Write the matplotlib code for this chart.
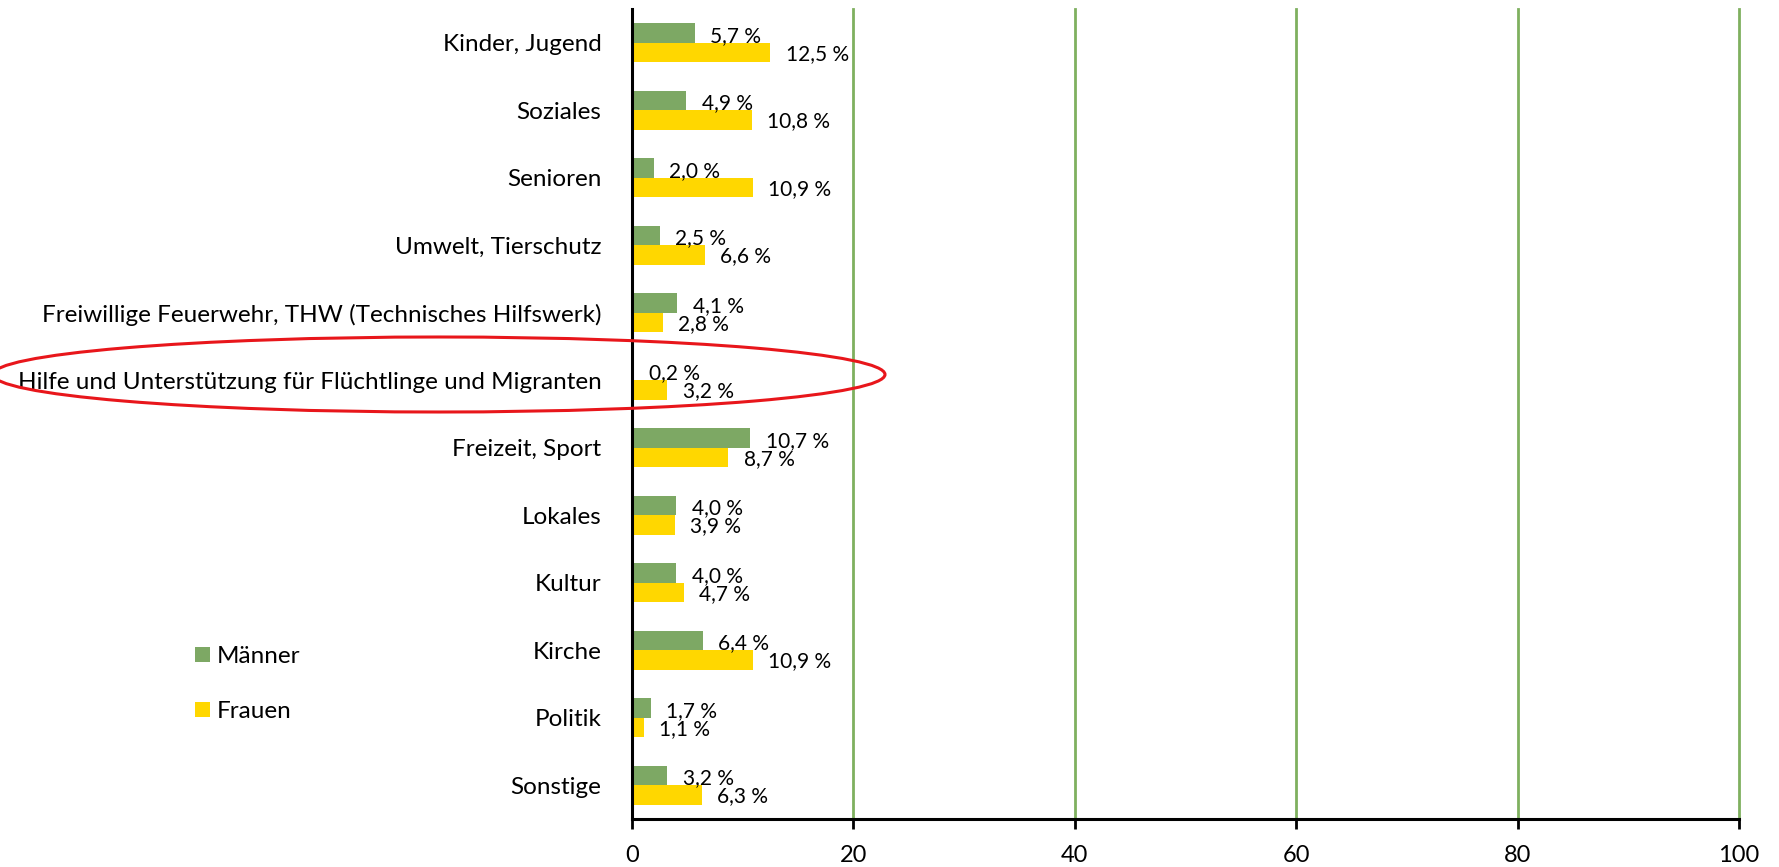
import matplotlib
matplotlib.use("Agg")
import matplotlib.pyplot as plt
from matplotlib.patches import Ellipse
import numpy as np

categories = ["Kinder, Jugend", "Soziales", "Senioren", "Umwelt, Tierschutz",
              "Freiwillige Feuerwehr, THW (Technisches Hilfswerk)",
              "Hilfe und Unterstützung für Flüchtlinge und Migranten",
              "Freizeit, Sport", "Lokales", "Kultur", "Kirche", "Politik", "Sonstige"]
maenner = [5.7, 4.9, 2.0, 2.5, 4.1, 0.2, 10.7, 4.0, 4.0, 6.4, 1.7, 3.2]
frauen = [12.5, 10.8, 10.9, 6.6, 2.8, 3.2, 8.7, 3.9, 4.7, 10.9, 1.1, 6.3]
xticks = [0, 20, 40, 60, 80, 100]

GREEN = "#7DA864"
YELLOW = "#FFD700"
GRID = "#7FB05F"

plt.rcParams['font.family'] = ['Lato', 'DejaVu Sans']

W, H = 1779, 867
fig = plt.figure(figsize=(W / 100, H / 100), dpi=100)
ax = fig.add_axes([632 / W, 1 - 819 / H, (1739 - 632) / W, (819 - 9) / H])

y = np.arange(len(categories))
bh = 0.29
bm = ax.barh(y - bh / 2, maenner, height=bh, color=GREEN, label="Männer", zorder=3)
bf = ax.barh(y + bh / 2, frauen, height=bh, color=YELLOW, label="Frauen", zorder=3)

def fmt(v):
    return f"{v:.1f}".replace(".", ",") + " %"

for yi, v in zip(y, maenner):
    ax.annotate(fmt(v), (v, yi - bh / 2), xytext=(11, -2), textcoords="offset points",
                ha="left", va="center", fontsize=15, color="black", zorder=4)
for yi, v in zip(y, frauen):
    ax.annotate(fmt(v), (v, yi + bh / 2), xytext=(11, -1), textcoords="offset points",
                ha="left", va="center", fontsize=15, color="black", zorder=4)

ax.set_xlim(0, 100)
ax.set_ylim(len(categories) - 0.5, -0.5)
ax.set_xticks(xticks)
ax.set_xticklabels([str(t) for t in xticks], fontsize=17)
ax.set_yticks(y)
ax.set_yticklabels(categories, fontsize=17.5)
ax.tick_params(axis='y', length=0, pad=22)
ax.tick_params(axis='x', length=7, width=2, direction='out', pad=12, color='black')
for t in xticks[1:]:
    ax.axvline(t, color=GRID, lw=2, zorder=1, clip_on=False)
for s in ["top", "right"]:
    ax.spines[s].set_visible(False)
ax.spines["left"].set_linewidth(2.2)
ax.spines["bottom"].set_linewidth(2.2)
ax.spines["left"].set_zorder(5)

fig.legend(handles=[bm, bf], labels=["Männer", "Frauen"], loc="upper left",
           bbox_to_anchor=(195 / W, 1 - 646 / H), frameon=False, fontsize=17.5,
           handlelength=0.6, handleheight=0.6, handletextpad=0.3,
           labelspacing=1.4, borderpad=0, borderaxespad=0)

ell = Ellipse((439 / W, 1 - 374.5 / H), 892 / W, 75 / H, transform=fig.transFigure,
              fill=False, edgecolor="#E8161B", lw=2.2)
fig.add_artist(ell)

fig.savefig("out.png", dpi=100)
